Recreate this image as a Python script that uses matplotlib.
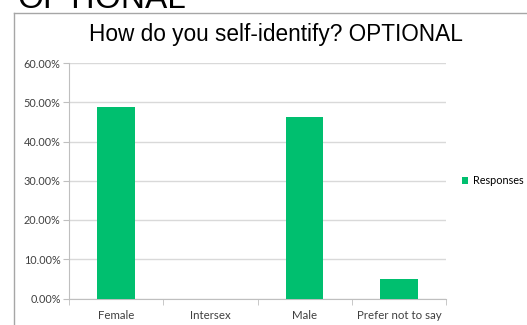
import matplotlib.pyplot as plt
from matplotlib.lines import Line2D
from matplotlib.ticker import FuncFormatter, FixedLocator

categories = ["Female", "Intersex", "Male", "Prefer not to say"]
responses = [48.78, 0.0, 46.34, 4.88]
series_name = "Responses"

bar_color = "#00BF6F"
grid_color = "#d9d9d9"
axis_color = "#bfbfbf"

fig = plt.figure(figsize=(5.27, 3.25), dpi=100)

# slide heading cut off at the top edge
fig.text(17 / 527, 1 - 8 / 325, "OPTIONAL", fontsize=24, family="Liberation Sans",
         ha="left", va="baseline", color="black")

# chart frame
fig.add_artist(Line2D([13.5 / 527, 13.5 / 527], [0, 1 - 12.5 / 325],
                      transform=fig.transFigure, color="#a6a6a6", lw=1))
fig.add_artist(Line2D([13.5 / 527, 1], [1 - 12.5 / 325, 1 - 12.5 / 325],
                      transform=fig.transFigure, color="#a6a6a6", lw=1))

fig.text(276 / 527, 1 - 35 / 325, "How do you self-identify? OPTIONAL", fontsize=16.3,
         family="Liberation Sans", ha="center", va="center", color="black")

ax = fig.add_axes([69 / 527, 26.5 / 325, 377 / 527, 235.5 / 325])
x = range(len(categories))
ax.bar(x, responses, width=0.4, color=bar_color, zorder=3, label=series_name)

ax.set_xlim(-0.5, len(categories) - 0.5)
ax.set_ylim(0, 60)
ax.set_yticks(range(0, 61, 10))
ax.yaxis.set_major_formatter(FuncFormatter(lambda v, p: f"{v:.2f}%"))
ax.grid(axis="y", color=grid_color, lw=1, zorder=0)

ax.set_xticks(list(x))
ax.set_xticklabels(categories)
ax.xaxis.set_minor_locator(FixedLocator([i - 0.5 for i in range(len(categories) + 1)]))
ax.tick_params(axis="x", which="major", length=0, pad=8, labelsize=8.3, labelcolor="#404040")
ax.tick_params(axis="x", which="minor", length=4, color=axis_color)
ax.tick_params(axis="y", length=4, color=axis_color, labelsize=7.8, labelcolor="#404040", pad=2)
for lbl in ax.get_xticklabels() + ax.get_yticklabels():
    lbl.set_family("Lato")

for side in ["top", "right"]:
    ax.spines[side].set_visible(False)
for side in ["left", "bottom"]:
    ax.spines[side].set_color(axis_color)

leg = ax.legend(loc="center left", bbox_to_anchor=(1.025, 0.5), frameon=False,
                handlelength=0.6, handleheight=0.6, handletextpad=0.4,
                borderaxespad=0.2, prop={"family": "Lato", "size": 7.8})

fig.savefig("out.png", dpi=100)
